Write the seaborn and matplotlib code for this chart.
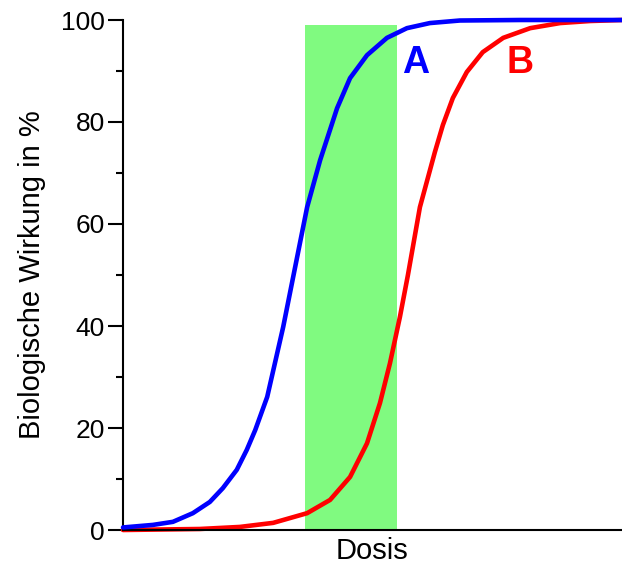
import matplotlib
matplotlib.use("Agg")
import matplotlib.pyplot as plt
import seaborn as sns
import numpy as np
import pandas as pd

# values (Dosis in arbitrary units 0-100)
dose_a = [0, 6.0, 10.0, 14.0, 17.4, 20.0, 22.8, 24.8, 26.5, 28.9, 32.1, 34.1,
          36.9, 39.5, 42.9, 45.5, 48.9, 52.9, 56.9, 61.5, 67.5, 79.6, 100]
wirkung_a = [0.5, 1.0, 1.6, 3.3, 5.5, 8.2, 11.8, 15.7, 19.6, 26.1, 39.8, 49.6,
             63.3, 72.5, 82.7, 88.6, 93.1, 96.5, 98.4, 99.4, 99.9, 100, 100]

dose_b = [0, 15.4, 23.4, 30.1, 36.9, 41.5, 45.5, 48.9, 51.5, 53.5, 55.5, 57.1,
          59.5, 62.5, 64.1, 66.1, 68.9, 72.1, 76.2, 81.6, 87.6, 93.6, 100]
wirkung_b = [0, 0.2, 0.6, 1.4, 3.3, 5.9, 10.4, 17.0, 24.9, 32.7, 41.8, 50.0,
             63.3, 74.1, 79.4, 84.7, 89.8, 93.7, 96.5, 98.4, 99.4, 99.8, 100]

fenster = [36.5, 54.9]   # green window (Dosis)
fenster_top = 99

labels = ["A", "B"]
label_pos = [(58.6, 91.5), (79.6, 91.5)]
farben = ["#0000ff", "#ff0000"]

sns.set_style("ticks")
plt.rcParams["font.family"] = ["Liberation Sans", "DejaVu Sans"]

fig = plt.figure(figsize=(6.22, 5.65), dpi=100)
ax = fig.add_axes([123 / 622, 35 / 565, 499 / 622, 510 / 565])

ax.axvspan(fenster[0], fenster[1], ymin=0, ymax=fenster_top / 100,
           color="#80fa80", lw=0, zorder=0)

df_a = pd.DataFrame({"Dosis": dose_a, "Wirkung": wirkung_a})
df_b = pd.DataFrame({"Dosis": dose_b, "Wirkung": wirkung_b})
sns.lineplot(data=df_a, x="Dosis", y="Wirkung", color=farben[0], lw=3.3,
             sort=False, ax=ax, clip_on=False, zorder=3)
sns.lineplot(data=df_b, x="Dosis", y="Wirkung", color=farben[1], lw=3.3,
             sort=False, ax=ax, clip_on=False, zorder=2)

for lab, (px, py), c in zip(labels, label_pos, farben):
    ax.text(px, py, lab, color=c, fontsize=27, fontweight="bold",
            ha="center", va="center")

ax.set_xlim(0, 100)
ax.set_ylim(0, 100)
ax.set_xticks([])
ax.set_yticks(np.arange(0, 101, 20))
ax.set_yticks(np.arange(10, 100, 20), minor=True)
ax.tick_params(axis="y", which="major", length=11, width=1.5, pad=2,
               labelsize=19, colors="black")
ax.tick_params(axis="y", which="minor", length=5, width=1.5, colors="black")
for s in ["top", "right"]:
    ax.spines[s].set_visible(False)
for s in ["left", "bottom"]:
    ax.spines[s].set_linewidth(1.5)
    ax.spines[s].set_color("black")

ax.set_xlabel("Dosis", fontsize=21, labelpad=5, color="black")
ax.set_ylabel("Biologische Wirkung in %", fontsize=21, labelpad=11, color="black")

fig.savefig("out.png", dpi=100)
